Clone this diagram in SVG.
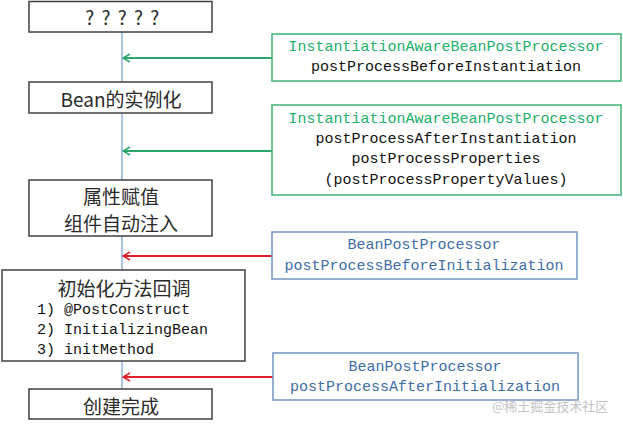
<svg xmlns="http://www.w3.org/2000/svg" width="623" height="425" viewBox="0 0 623 425">
<defs>
<style>
.box{fill:#fff;stroke:#404040;stroke-width:1.5}
.gbox{fill:#fff;stroke:#3cb371;stroke-width:1.5}
.bbox{fill:#fff;stroke:#7097c6;stroke-width:1.5}
.cn{font-family:"Noto Sans CJK SC","Noto Sans",sans-serif;font-size:19px;fill:#2a2a2a;text-anchor:middle;dominant-baseline:central}
.mono{font-family:"Liberation Mono",monospace;font-size:15px;fill:#111;dominant-baseline:central}
.mid{text-anchor:middle}
.green{fill:#22b06a}
.blue{fill:#3d6ea8}
.wm{font-family:"Noto Sans CJK SC",sans-serif;font-size:13px;fill:#c4c4c4;dominant-baseline:central}
</style>
<marker id="ag" viewBox="0 0 10 10" refX="9" refY="5" markerWidth="10" markerHeight="10" markerUnits="userSpaceOnUse" orient="auto"><path d="M2,1 L9,5 L2,9" fill="none" stroke="#2aa86a" stroke-width="1.6"/></marker>
<marker id="ar" viewBox="0 0 10 10" refX="9" refY="5" markerWidth="10" markerHeight="10" markerUnits="userSpaceOnUse" orient="auto"><path d="M2,1 L9,5 L2,9" fill="none" stroke="#e0202a" stroke-width="1.6"/></marker>
</defs>
<rect width="623" height="425" fill="#fff"/>
<g id="connectors">
<line x1="122" y1="32" x2="122" y2="390" stroke="#8fb3d8" stroke-width="1.5"/>
<line x1="272" y1="58" x2="123" y2="58" stroke="#2aa86a" stroke-width="2" marker-end="url(#ag)"/>
<line x1="272" y1="151" x2="123" y2="151" stroke="#2aa86a" stroke-width="2" marker-end="url(#ag)"/>
<line x1="272" y1="256" x2="123" y2="256" stroke="#e0202a" stroke-width="2" marker-end="url(#ar)"/>
<line x1="273" y1="377" x2="123" y2="377" stroke="#e0202a" stroke-width="2" marker-end="url(#ar)"/>
</g>
<g id="n_unknown">
<rect class="box" x="29" y="1.5" width="183" height="30.5"/>
<text class="cn" x="123" y="16" font-size="17" letter-spacing="1.5">? ? ? ? ?</text>
</g>
<g id="n_instantiate">
<rect class="box" x="29" y="82" width="183" height="31"/>
<text class="cn" x="121" y="98">Bean的实例化</text>
</g>
<g id="n_populate">
<rect class="box" x="29" y="180" width="183" height="56"/>
<text class="cn" x="121" y="195" font-size="20">属性赋值</text>
<text class="cn" x="121" y="222" font-size="20">组件自动注入</text>
</g>
<g id="n_init">
<rect class="box" x="2" y="270" width="243" height="91"/>
<text class="cn" x="124" y="287" font-size="20">初始化方法回调</text>
<text class="mono" x="37" y="310">1) @PostConstruct</text>
<text class="mono" x="37" y="330">2) InitializingBean</text>
<text class="mono" x="37" y="350">3) initMethod</text>
</g>
<g id="n_done">
<rect class="box" x="29" y="389" width="183" height="30"/>
<text class="cn" x="121" y="405" font-size="20">创建完成</text>
</g>
<g id="p_before_inst">
<rect class="gbox" x="272" y="34" width="349" height="47"/>
<text class="mono mid green" x="446" y="47">InstantiationAwareBeanPostProcessor</text>
<text class="mono mid" x="446" y="67">postProcessBeforeInstantiation</text>
</g>
<g id="p_after_inst">
<rect class="gbox" x="272" y="105" width="349" height="90"/>
<text class="mono mid green" x="446" y="119">InstantiationAwareBeanPostProcessor</text>
<text class="mono mid" x="446" y="139">postProcessAfterInstantiation</text>
<text class="mono mid" x="446" y="159">postProcessProperties</text>
<text class="mono mid" x="446" y="180">(postProcessPropertyValues)</text>
</g>
<g id="p_before_init">
<rect class="bbox" x="272" y="232" width="305" height="47"/>
<text class="mono mid blue" x="424" y="245">BeanPostProcessor</text>
<text class="mono mid blue" x="424" y="266">postProcessBeforeInitialization</text>
</g>
<g id="p_after_init">
<rect class="bbox" x="273" y="353" width="305" height="47"/>
<text class="mono mid blue" x="425" y="367">BeanPostProcessor</text>
<text class="mono mid blue" x="425" y="387">postProcessAfterInitialization</text>
</g>
<text class="wm" x="492" y="405">@稀土掘金技术社区</text>
</svg>
